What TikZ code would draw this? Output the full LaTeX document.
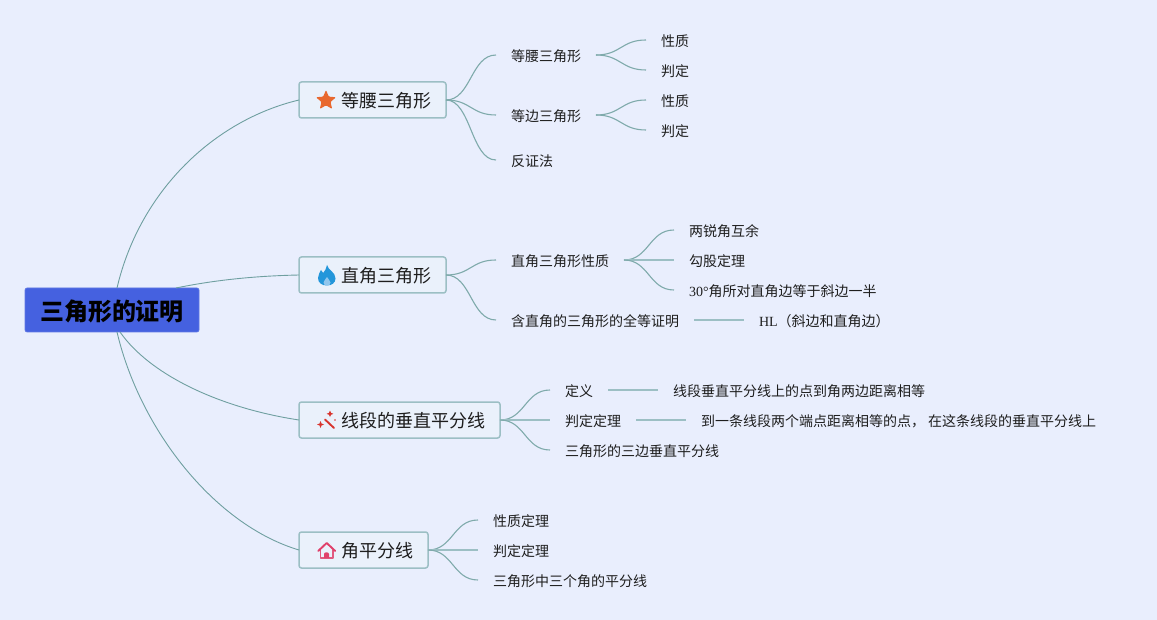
\documentclass[tikz,border=0pt]{standalone}
\usepackage{fontspec}
\setmainfont{Noto Sans CJK SC}
\newfontfamily\lat{Liberation Serif}
\usetikzlibrary{shapes.geometric}
\definecolor{bgc}{HTML}{E9EEFD}
\definecolor{topicfill}{HTML}{EAF1FB}
\definecolor{topicline}{HTML}{9CBFC4}
\definecolor{linkc}{HTML}{7FAAAB}
\definecolor{mainlink}{HTML}{6F9FA0}
\definecolor{rootc}{HTML}{4561E0}
\definecolor{txt}{HTML}{1E1E1E}
\definecolor{starc}{HTML}{E8682F}
\definecolor{flamec}{HTML}{2396DA}
\definecolor{wandc}{HTML}{D8352E}
\definecolor{housec}{HTML}{E0406A}
\tikzset{
  x=1pt,y=-1pt,
  rootnode/.style={fill=rootc,draw=rootc!85!white,line width=.6pt,rounded corners=2pt,minimum width=174pt,minimum height=44pt,inner sep=0pt,outer sep=0pt,text=black,text height=20.2pt,text depth=0pt,font=\fontsize{24}{28}\selectfont\bfseries},
  topic/.style={fill=topicfill,draw=topicline,line width=1.5pt,rounded corners=2.5pt,minimum height=36pt,inner sep=0pt,outer sep=0pt,anchor=west,text=txt,text height=14.7pt,text depth=0pt,font=\fontsize{18}{22}\selectfont},
  leaf/.style={anchor=west,inner ysep=0pt,inner xsep=0pt,outer ysep=0pt,outer xsep=15pt,text height=12.6pt,text depth=0pt,text=txt,font=\fontsize{14}{16}\selectfont},
  sub/.style={draw=linkc,line width=1.1pt},
  flat/.style={draw=topicline,line width=1.6pt},
  main/.style={draw=mainlink,line width=.9pt},
}
\newcommand{\linkto}[2]{\draw[sub] (#1.east) .. controls +(25,0) and +(-25,0) .. (#2.west);}
\newcommand{\flatto}[2]{\draw[flat] (#1.east) -- (#2.west);}
\begin{document}
\begin{tikzpicture}
\useasboundingbox (0,0) rectangle (1157,620);
\fill[bgc] (0,0) rectangle (1157,620);
% root and topics
\node[rootnode] (root) at (112,310) {三角形的证明};
\node[topic] (t1) at (299,100) {\makebox[147pt][l]{\hspace{42pt}等腰三角形}};
\node[topic] (t2) at (299,275) {\makebox[147pt][l]{\hspace{42pt}直角三角形}};
\node[topic] (t3) at (299,420) {\makebox[201pt][l]{\hspace{42pt}线段的垂直平分线}};
\node[topic] (t4) at (299,550) {\makebox[129pt][l]{\hspace{42pt}角平分线}};
% leaves, topic 1
\node[leaf] (a1) at (496,55) {等腰三角形};
\node[leaf] (a2) at (496,115) {等边三角形};
\node[leaf] (a3) at (496,160) {反证法};
\node[leaf] (a11) at (646,40) {性质};
\node[leaf] (a12) at (646,70) {判定};
\node[leaf] (a21) at (646,100) {性质};
\node[leaf] (a22) at (646,130) {判定};
% topic 2
\node[leaf] (b1) at (496,260) {直角三角形性质};
\node[leaf] (b2) at (496,320) {含直角的三角形的全等证明};
\node[leaf] (b11) at (674,230) {两锐角互余};
\node[leaf] (b12) at (674,260) {勾股定理};
\node[leaf] (b13) at (674,290) {{\lat 30°}角所对直角边等于斜边一半};
\node[leaf] (b21) at (744,320) {{\lat HL}（斜边和直角边）};
% topic 3
\node[leaf] (c1) at (550,390) {定义};
\node[leaf] (c2) at (550,420) {判定定理};
\node[leaf] (c3) at (550,450) {三角形的三边垂直平分线};
\node[leaf] (c11) at (658,390) {线段垂直平分线上的点到角两边距离相等};
\node[leaf] (c21) at (686,420) {到一条线段两个端点距离相等的点， 在这条线段的垂直平分线上};
% topic 4
\node[leaf] (d1) at (478,520) {性质定理};
\node[leaf] (d2) at (478,550) {判定定理};
\node[leaf] (d3) at (478,580) {三角形中三个角的平分线};
% main connectors
\draw[main] ([xshift=5pt]root.north) .. controls (140,190) and (215,120) .. (t1.west);
\draw[main] ([xshift=64pt]root.north) .. controls (210,281) and (250,276) .. (t2.west);
\draw[main] ([xshift=8pt]root.south) .. controls (150,375) and (220,408) .. (t3.west);
\draw[main] ([xshift=5pt]root.south) .. controls (140,430) and (215,525) .. (t4.west);
% sub connectors
\linkto{t1}{a1}\linkto{t1}{a2}\linkto{t1}{a3}
\linkto{a1}{a11}\linkto{a1}{a12}\linkto{a2}{a21}\linkto{a2}{a22}
\linkto{t2}{b1}\linkto{t2}{b2}
\linkto{b1}{b11}\flatto{b1}{b12}\linkto{b1}{b13}\flatto{b2}{b21}
\linkto{t3}{c1}\flatto{t3}{c2}\linkto{t3}{c3}
\flatto{c1}{c11}\flatto{c2}{c21}
\linkto{t4}{d1}\flatto{t4}{d2}\linkto{t4}{d3}
% icons
\node[star,star points=5,star point ratio=2.2,fill=starc,minimum size=21pt,inner sep=0pt,rounded corners=1pt] (i1) at (326,100.5) {};
\fill[flamec] (327,265) .. controls (328,270) and (335.5,272) .. (335.5,278.5) .. controls (335.5,283) and (331.5,285.5) .. (327,285.5) .. controls (322,285.5) and (318,283) .. (318,278) .. controls (318,274.5) and (320,272.5) .. (321,270) .. controls (322,271) and (322.8,272) .. (323.2,273) .. controls (325,271) and (326.5,268) .. (327,265) -- cycle;
\fill[bgc!55!flamec] (327,277) .. controls (328,279.5) and (330.5,280.5) .. (330.5,282.5) .. controls (330.5,284.5) and (329,285.5) .. (327,285.5) .. controls (325,285.5) and (323.5,284.5) .. (323.5,282.5) .. controls (323.5,280.5) and (326,279.5) .. (327,277) -- cycle;
\draw[wandc,line width=1.9pt,line cap=round] (325,419.5) -- (334,428);
\fill[wandc] (320.5,421) -- (321.5,423.5) -- (324,424.5) -- (321.5,425.5) -- (320.5,428) -- (319.5,425.5) -- (317,424.5) -- (319.5,423.5) -- cycle;
\fill[wandc] (330,410.5) -- (331,412.8) -- (333.3,413.8) -- (331,414.8) -- (330,417) -- (329,414.8) -- (326.7,413.8) -- (329,412.8) -- cycle;
\fill[wandc] (335,420) circle (.9);
\draw[housec!85!bgc,line width=1.6pt,line join=round] (320.5,550) -- (320.5,557.7) -- (333,557.7) -- (333,550);
\draw[housec,line width=1.9pt,line join=round,line cap=round] (318.2,551) -- (326.7,543) -- (335.2,551);
\fill[housec] (324,558) -- (324,554) .. controls (324,551.7) and (329,551.7) .. (329,554) -- (329,558) -- cycle;
\end{tikzpicture}
\end{document}
